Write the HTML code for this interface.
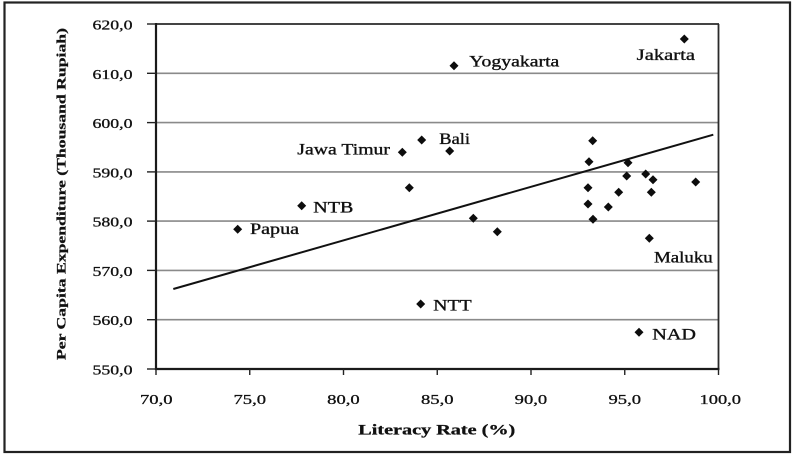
<!DOCTYPE html>
<html>
<head>
<meta charset="utf-8">
<style>
  html, body { margin: 0; padding: 0; background: #fff; }
  svg { display: block; }
  text { font-family: "Liberation Serif", "Times New Roman", serif; fill: #111; }
</style>
</head>
<body>
<svg width="800" height="459" viewBox="0 0 800 459" xmlns="http://www.w3.org/2000/svg">
  <rect x="0" y="0" width="800" height="459" fill="#fff"/>
  <!-- outer frame -->
  <rect x="4.5" y="2.5" width="785.5" height="449.5" fill="none" stroke="#222" stroke-width="2.2"/>

  <!-- gridlines -->
  <g stroke="#8a8a8a" stroke-width="1.6">
    <line x1="156" y1="73.3" x2="718.5" y2="73.3"/>
    <line x1="156" y1="122.6" x2="718.5" y2="122.6"/>
    <line x1="156" y1="171.9" x2="718.5" y2="171.9"/>
    <line x1="156" y1="221.1" x2="718.5" y2="221.1"/>
    <line x1="156" y1="270.4" x2="718.5" y2="270.4"/>
    <line x1="156" y1="319.7" x2="718.5" y2="319.7"/>
  </g>
  <!-- plot border top/right -->
  <line x1="156" y1="24" x2="719" y2="24" stroke="#2a2a2a" stroke-width="1.8"/>
  <line x1="718.5" y1="24" x2="718.5" y2="369" stroke="#2a2a2a" stroke-width="1.8"/>
  <!-- axes -->
  <line x1="156" y1="23" x2="156" y2="370" stroke="#1a1a1a" stroke-width="2.2"/>
  <line x1="155" y1="369" x2="719.5" y2="369" stroke="#1a1a1a" stroke-width="2.2"/>

  <!-- y ticks -->
  <g stroke="#222" stroke-width="1.4">
    <line x1="147" y1="24" x2="156" y2="24"/>
    <line x1="147" y1="73.3" x2="156" y2="73.3"/>
    <line x1="147" y1="122.6" x2="156" y2="122.6"/>
    <line x1="147" y1="171.9" x2="156" y2="171.9"/>
    <line x1="147" y1="221.1" x2="156" y2="221.1"/>
    <line x1="147" y1="270.4" x2="156" y2="270.4"/>
    <line x1="147" y1="319.7" x2="156" y2="319.7"/>
    <line x1="147" y1="369" x2="156" y2="369"/>
  </g>
  <!-- x ticks -->
  <g stroke="#222" stroke-width="1.4">
    <line x1="156" y1="369" x2="156" y2="375"/>
    <line x1="249.75" y1="369" x2="249.75" y2="375"/>
    <line x1="343.5" y1="369" x2="343.5" y2="375"/>
    <line x1="437.25" y1="369" x2="437.25" y2="375"/>
    <line x1="531" y1="369" x2="531" y2="375"/>
    <line x1="624.75" y1="369" x2="624.75" y2="375"/>
    <line x1="718.5" y1="369" x2="718.5" y2="375"/>
  </g>

  <!-- y tick labels -->
  <g font-size="14" stroke="#111" stroke-width="0.3">
    <text x="92.5" y="29.5" textLength="40" lengthAdjust="spacingAndGlyphs">620,0</text>
    <text x="92.5" y="78.8" textLength="40" lengthAdjust="spacingAndGlyphs">610,0</text>
    <text x="92.5" y="128.1" textLength="40" lengthAdjust="spacingAndGlyphs">600,0</text>
    <text x="92.5" y="177.4" textLength="40" lengthAdjust="spacingAndGlyphs">590,0</text>
    <text x="92.5" y="226.6" textLength="40" lengthAdjust="spacingAndGlyphs">580,0</text>
    <text x="92.5" y="275.9" textLength="40" lengthAdjust="spacingAndGlyphs">570,0</text>
    <text x="92.5" y="325.2" textLength="40" lengthAdjust="spacingAndGlyphs">560,0</text>
    <text x="92.5" y="374.5" textLength="40" lengthAdjust="spacingAndGlyphs">550,0</text>
  </g>
  <!-- x tick labels -->
  <g font-size="14" stroke="#111" stroke-width="0.3">
    <text x="140" y="404" textLength="32.5" lengthAdjust="spacingAndGlyphs">70,0</text>
    <text x="233.5" y="404" textLength="32.5" lengthAdjust="spacingAndGlyphs">75,0</text>
    <text x="327.2" y="404" textLength="32.5" lengthAdjust="spacingAndGlyphs">80,0</text>
    <text x="421" y="404" textLength="32.5" lengthAdjust="spacingAndGlyphs">85,0</text>
    <text x="514.7" y="404" textLength="32.5" lengthAdjust="spacingAndGlyphs">90,0</text>
    <text x="608.5" y="404" textLength="32.5" lengthAdjust="spacingAndGlyphs">95,0</text>
    <text x="699.5" y="404" textLength="41.5" lengthAdjust="spacingAndGlyphs">100,0</text>
  </g>

  <!-- axis titles -->
  <text x="358.3" y="434.5" font-size="15" font-weight="bold" textLength="157" lengthAdjust="spacingAndGlyphs" stroke="#111" stroke-width="0.3">Literacy Rate (%)</text>
  <text transform="translate(65.7,360) rotate(-90)" x="0" y="0" font-size="13" font-weight="bold" textLength="332" lengthAdjust="spacingAndGlyphs" stroke="#111" stroke-width="0.25">Per Capita Expenditure (Thousand Rupiah)</text>

  <!-- trend line -->
  <line x1="173.3" y1="289" x2="713.3" y2="134.7" stroke="#111" stroke-width="2"/>

  <!-- points -->
  <g fill="#0d0d0d">
    <path d="M301.7,201.2 l4.5,4.5 l-4.5,4.5 l-4.5,-4.5 z"/>
    <path d="M237.7,224.8 l4.5,4.5 l-4.5,4.5 l-4.5,-4.5 z"/>
    <path d="M454,61.2 l4.5,4.5 l-4.5,4.5 l-4.5,-4.5 z"/>
    <path d="M402.3,147.8 l4.5,4.5 l-4.5,4.5 l-4.5,-4.5 z"/>
    <path d="M421.7,135.5 l4.5,4.5 l-4.5,4.5 l-4.5,-4.5 z"/>
    <path d="M449.7,146.5 l4.5,4.5 l-4.5,4.5 l-4.5,-4.5 z"/>
    <path d="M409.3,183.2 l4.5,4.5 l-4.5,4.5 l-4.5,-4.5 z"/>
    <path d="M473.3,213.8 l4.5,4.5 l-4.5,4.5 l-4.5,-4.5 z"/>
    <path d="M497.3,227.2 l4.5,4.5 l-4.5,4.5 l-4.5,-4.5 z"/>
    <path d="M684.3,34.5 l4.5,4.5 l-4.5,4.5 l-4.5,-4.5 z"/>
    <path d="M592.7,136.2 l4.5,4.5 l-4.5,4.5 l-4.5,-4.5 z"/>
    <path d="M589,157.2 l4.5,4.5 l-4.5,4.5 l-4.5,-4.5 z"/>
    <path d="M628,158.2 l4.5,4.5 l-4.5,4.5 l-4.5,-4.5 z"/>
    <path d="M626.7,171.5 l4.5,4.5 l-4.5,4.5 l-4.5,-4.5 z"/>
    <path d="M645.7,169.5 l4.5,4.5 l-4.5,4.5 l-4.5,-4.5 z"/>
    <path d="M653,175.2 l4.5,4.5 l-4.5,4.5 l-4.5,-4.5 z"/>
    <path d="M695.7,177.5 l4.5,4.5 l-4.5,4.5 l-4.5,-4.5 z"/>
    <path d="M588,183.2 l4.5,4.5 l-4.5,4.5 l-4.5,-4.5 z"/>
    <path d="M618.7,187.8 l4.5,4.5 l-4.5,4.5 l-4.5,-4.5 z"/>
    <path d="M651.3,187.8 l4.5,4.5 l-4.5,4.5 l-4.5,-4.5 z"/>
    <path d="M588,199.5 l4.5,4.5 l-4.5,4.5 l-4.5,-4.5 z"/>
    <path d="M608.3,202.5 l4.5,4.5 l-4.5,4.5 l-4.5,-4.5 z"/>
    <path d="M593,214.8 l4.5,4.5 l-4.5,4.5 l-4.5,-4.5 z"/>
    <path d="M649.3,233.8 l4.5,4.5 l-4.5,4.5 l-4.5,-4.5 z"/>
    <path d="M420.7,299.5 l4.5,4.5 l-4.5,4.5 l-4.5,-4.5 z"/>
    <path d="M639,327.8 l4.5,4.5 l-4.5,4.5 l-4.5,-4.5 z"/>
  </g>

  <!-- point labels -->
  <g font-size="16" stroke="#111" stroke-width="0.35">
    <text x="469.3" y="66.7" textLength="90" lengthAdjust="spacingAndGlyphs">Yogyakarta</text>
    <text x="636.7" y="60" textLength="58.3" lengthAdjust="spacingAndGlyphs">Jakarta</text>
    <text x="439.3" y="144" textLength="30.7" lengthAdjust="spacingAndGlyphs">Bali</text>
    <text x="297.3" y="154.3" textLength="92.7" lengthAdjust="spacingAndGlyphs">Jawa Timur</text>
    <text x="313.3" y="212.3" textLength="40" lengthAdjust="spacingAndGlyphs">NTB</text>
    <text x="250" y="234" textLength="49" lengthAdjust="spacingAndGlyphs">Papua</text>
    <text x="654" y="262.3" textLength="58.7" lengthAdjust="spacingAndGlyphs">Maluku</text>
    <text x="433.3" y="310.7" textLength="38.4" lengthAdjust="spacingAndGlyphs">NTT</text>
    <text x="652.3" y="339.7" textLength="43.7" lengthAdjust="spacingAndGlyphs">NAD</text>
  </g>
</svg>
</body>
</html>
